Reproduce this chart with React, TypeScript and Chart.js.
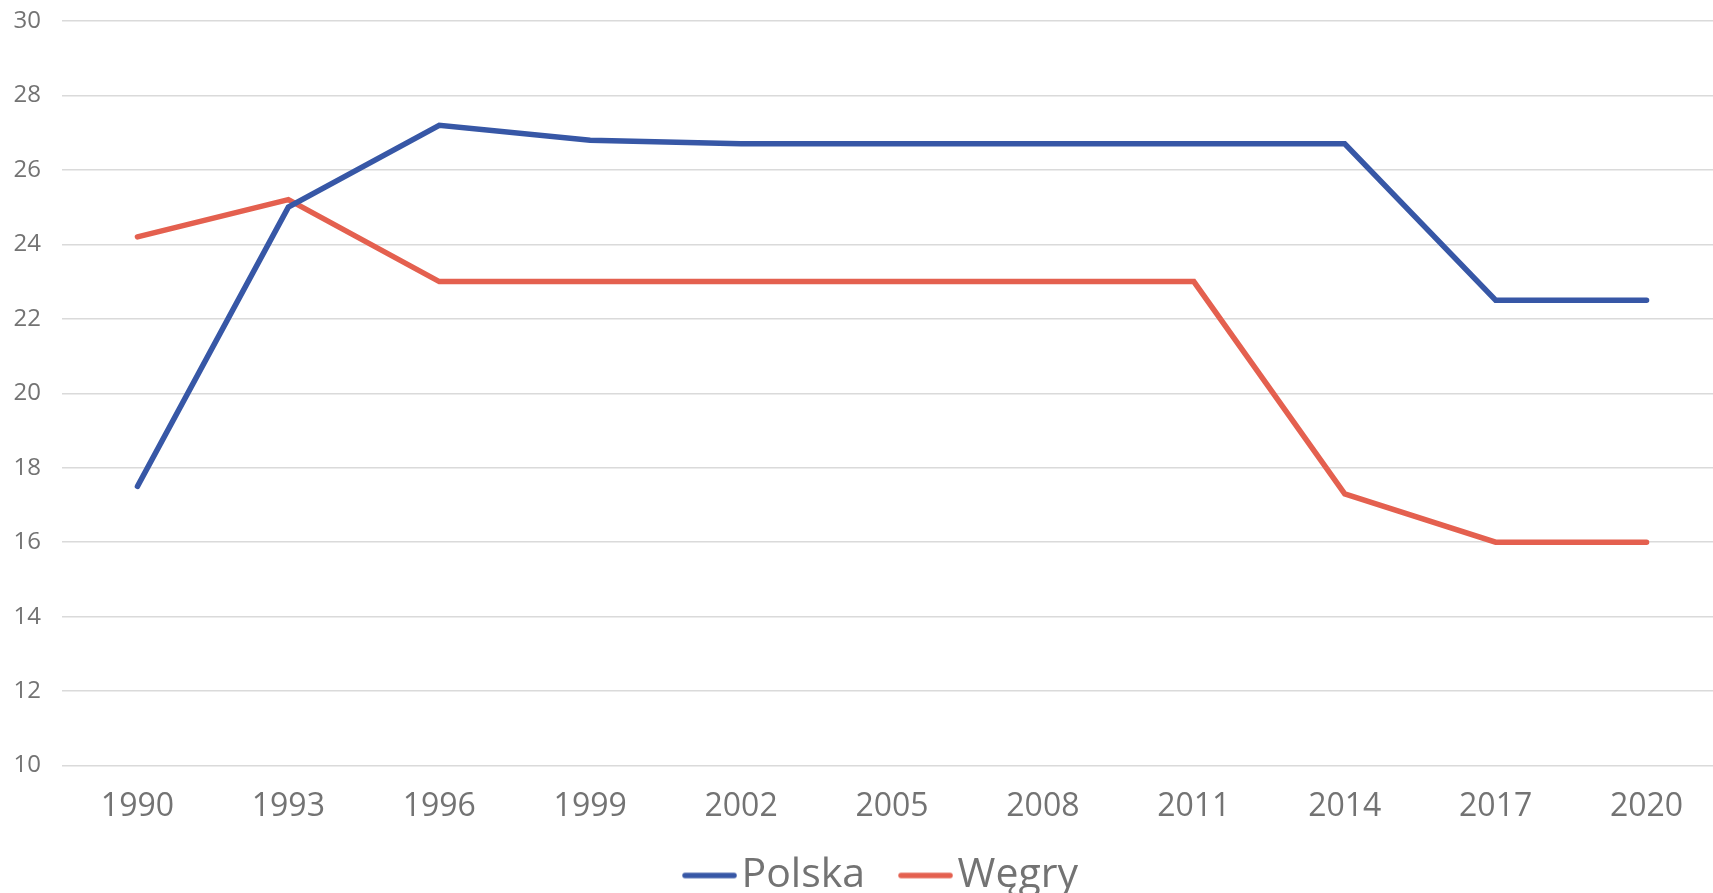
import React, { useEffect, useRef } from "react";
import { Chart, registerables } from "chart.js";

Chart.register(...registerables);

const years = ["1990", "1993", "1996", "1999", "2002", "2005", "2008", "2011", "2014", "2017", "2020"];
const polska = [17.5, 25.0, 27.2, 26.8, 26.7, 26.7, 26.7, 26.7, 26.7, 22.5, 22.5];
const wegry = [24.2, 25.2, 23.0, 23.0, 23.0, 23.0, 23.0, 23.0, 17.3, 16.0, 16.0];

const seriesNames = ["Polska", "Węgry"];
const seriesColors = ["#3757A6", "#E4604F"];

const W = 1722;
const H = 906;

function legendSwatch(color: string): HTMLCanvasElement {
  // legend icon: a short thick line, offset so the label sits close to it
  const c = document.createElement("canvas");
  c.width = 70;
  c.height = 8;
  const ctx = c.getContext("2d")!;
  ctx.strokeStyle = color;
  ctx.lineWidth = 5.5;
  ctx.lineCap = "round";
  ctx.beginPath();
  ctx.moveTo(18, 4);
  ctx.lineTo(67, 4);
  ctx.stroke();
  return c;
}

const legendShift = {
  id: "legendShift",
  afterLayout(chart: any) {
    if (chart.legend) {
      chart.legend.left += 39;
    }
  },
};

export default function App() {
  const ref = useRef<HTMLCanvasElement | null>(null);
  useEffect(() => {
    document.body.style.margin = "0";
    document.body.style.overflow = "hidden";
    const font = "'Open Sans', sans-serif";
    const mk = (i: number, data: number[]) => ({
      label: seriesNames[i],
      data,
      borderColor: seriesColors[i],
      backgroundColor: seriesColors[i],
      borderWidth: 5.5,
      borderCapStyle: "round" as const,
      borderJoinStyle: "miter" as const,
      pointRadius: 0,
      pointHoverRadius: 0,
      pointStyle: legendSwatch(seriesColors[i]),
      tension: 0,
    });
    const chart = new Chart(ref.current as HTMLCanvasElement, {
      type: "line",
      data: {
        labels: years,
        datasets: [mk(0, polska), mk(1, wegry)],
      },
      plugins: [legendShift],
      options: {
        responsive: false,
        animation: false,
        devicePixelRatio: 1,
        layout: { padding: { top: 21, left: 0, right: 0, bottom: 0 } },
        plugins: {
          tooltip: { enabled: false },
          legend: {
            position: "bottom",
            align: "center",
            labels: {
              usePointStyle: true,
              pointStyleWidth: 38,
              padding: 34,
              color: "#737373",
              font: { family: font, size: 41 },
            },
          },
        },
        scales: {
          x: {
            offset: true,
            grid: { display: false, drawTicks: false },
            border: { display: false },
            ticks: {
              color: "#737373",
              font: { family: font, size: 32 },
              padding: 22,
              maxRotation: 0,
            },
            afterFit: (s: any) => {
              s.height = s.height - 27;
            },
          },
          y: {
            min: 10,
            max: 30,
            grid: { color: "#DADADA", lineWidth: 1.6, drawTicks: false },
            border: { display: false },
            ticks: {
              stepSize: 2,
              color: "#737373",
              font: { family: font, size: 24 },
              padding: 21,
            },
            afterFit: (s: any) => {
              s.width = 62;
              s.paddingTop = 0;
              s.paddingBottom = 0;
            },
          },
        },
      },
    });
    return () => chart.destroy();
  }, []);
  return (
    <div style={{ position: "fixed", left: 0, top: 0, width: W, height: H, background: "#fff" }}>
      <canvas ref={ref} width={W} height={H} style={{ width: W, height: H, display: "block" }} />
    </div>
  );
}
